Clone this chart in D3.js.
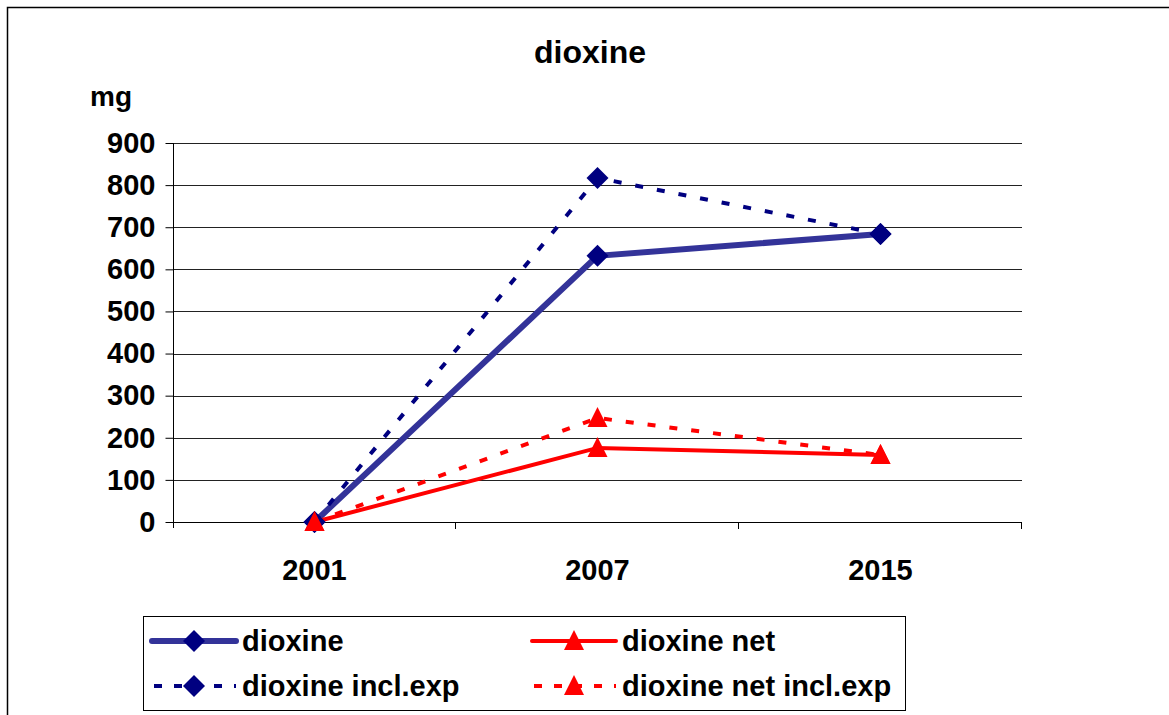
<!DOCTYPE html>
<html lang="en">
<head>
    <meta charset="UTF-8">
    <title>dioxine</title>
    <script src="https://cdn.jsdelivr.net/npm/d3@7" type="text/javascript"></script>
    <style>
        body { margin: 0; background: #fff; }
        text { font-family: "Liberation Sans", Arial, sans-serif; font-weight: bold; }
    </style>
</head>
<body>
<svg width="1169" height="715"></svg>
<script type="text/javascript">
    // data
    var years = ["2001", "2007", "2015"];
    var dioxine = [0, 632, 684];
    var dioxineNet = [0, 176, 159];
    var dioxineInclExp = [0, 817, 684];
    var dioxineNetInclExp = [0, 247, 159];
    var yTicks = [0, 100, 200, 300, 400, 500, 600, 700, 800, 900];

    var series = [
        {name: "dioxine", values: dioxine, line: "#333399", marker: "#000080", width: 6, dash: null, shape: "diamond"},
        {name: "dioxine net", values: dioxineNet, line: "#ff0000", marker: "#ff0000", width: 4, dash: null, shape: "triangle"},
        {name: "dioxine incl.exp", values: dioxineInclExp, line: "#000080", marker: "#000080", width: 4, dash: "8,14", shape: "diamond"},
        {name: "dioxine net incl.exp", values: dioxineNetInclExp, line: "#ff0000", marker: "#ff0000", width: 4, dash: "8,14", shape: "triangle"}
    ];

    var svg = d3.select('svg');

    // outer frame
    svg.append('rect')
        .attr('x', 7.5).attr('y', 7.5)
        .attr('width', 1200).attr('height', 800)
        .attr('fill', 'none').attr('stroke', '#000').attr('stroke-width', 1.5);

    var pLeft = 173, pTop = 143, pRight = 1022, pBottom = 522;

    var x = d3.scaleBand().domain(years).range([pLeft, pRight]).padding(0);
    var y = d3.scaleLinear().domain([0, 900]).range([pBottom, pTop]);

    // title and unit
    svg.append('text').attr('x', 590).attr('y', 63)
        .attr('text-anchor', 'middle').attr('font-size', 32).text('dioxine');
    svg.append('text').attr('x', 90).attr('y', 106)
        .attr('font-size', 28).text('mg');

    // gridlines
    svg.append('g').selectAll('line')
        .data(yTicks)
        .enter().append('line')
        .attr('x1', pLeft).attr('x2', pRight)
        .attr('y1', function (d) { return Math.round(y(d)) + 0.5; })
        .attr('y2', function (d) { return Math.round(y(d)) + 0.5; })
        .attr('stroke', '#222').attr('stroke-width', 1);

    // y axis
    var yAxis = d3.axisLeft(y).tickValues(yTicks).tickSize(8).tickPadding(10);
    var gy = svg.append('g').attr('transform', 'translate(' + (pLeft + 0.5) + ',0)').call(yAxis);
    gy.select('.domain').attr('stroke', '#000').attr('d', 'M0,' + pTop + 'V' + (pBottom + 6));
    gy.selectAll('.tick line').attr('stroke', '#000');
    gy.selectAll('.tick text').attr('font-size', 29).attr('fill', '#000')
        .style('font-family', '"Liberation Sans", Arial, sans-serif').style('font-weight', 'bold');

    // x axis: ticks between categories
    var gx = svg.append('g');
    gx.append('line').attr('x1', pLeft).attr('x2', pRight)
        .attr('y1', pBottom + 0.5).attr('y2', pBottom + 0.5).attr('stroke', '#000');
    var edges = years.map(function (d) { return x(d) + x.bandwidth(); });
    gx.selectAll('.xt').data(edges).enter().append('line')
        .attr('x1', function (d) { return d - 0.5; }).attr('x2', function (d) { return d - 0.5; })
        .attr('y1', pBottom).attr('y2', pBottom + 7).attr('stroke', '#000');
    gx.selectAll('text').data(years).enter().append('text')
        .attr('x', function (d) { return x(d) + x.bandwidth() / 2; })
        .attr('y', 580).attr('text-anchor', 'middle').attr('font-size', 29)
        .text(function (d) { return d; });

    var cx = function (d, i) { return x(years[i]) + x.bandwidth() / 2; };
    var line = d3.line().x(cx).y(function (d) { return y(d); });

    var diamond = "M0,-11L11,0L0,11L-11,0Z";
    var triangle = "M0,-11L10,9L-10,9Z";

    var plot = svg.append('g');
    series.forEach(function (s) {
        plot.append('path').datum(s.values)
            .attr('d', line).attr('fill', 'none')
            .attr('stroke', s.line).attr('stroke-width', s.width)
            .attr('stroke-dasharray', s.dash);
    });
    series.forEach(function (s) {
        plot.selectAll(null).data(s.values).enter().append('path')
            .attr('d', s.shape === 'diamond' ? diamond : triangle)
            .attr('transform', function (d, i) { return 'translate(' + cx(d, i) + ',' + y(d) + ')'; })
            .attr('fill', s.marker);
    });

    // legend
    var lg = svg.append('g');
    lg.append('rect').attr('x', 143.5).attr('y', 616.5).attr('width', 762).attr('height', 94)
        .attr('fill', '#fff').attr('stroke', '#000').attr('stroke-width', 1);
    var pos = [[152, 641], [532, 641], [152, 686], [532, 686]];
    series.forEach(function (s, j) {
        var p = pos[j];
        lg.append('line').attr('x1', p[0] + (s.dash ? 2 : 0)).attr('x2', p[0] + 84)
            .attr('y1', p[1]).attr('y2', p[1])
            .attr('stroke', s.line).attr('stroke-width', s.width)
            .attr('stroke-dasharray', s.dash ? '8,12' : null)
            .attr('stroke-linecap', s.dash ? 'butt' : 'round');
        lg.append('path').attr('d', s.shape === 'diamond' ? diamond : triangle)
            .attr('transform', 'translate(' + (p[0] + 42) + ',' + p[1] + ')')
            .attr('fill', s.marker);
        lg.append('text').attr('x', p[0] + 90).attr('y', p[1] + 10)
            .attr('font-size', 29).text(s.name);
    });
</script>
</body>
</html>
